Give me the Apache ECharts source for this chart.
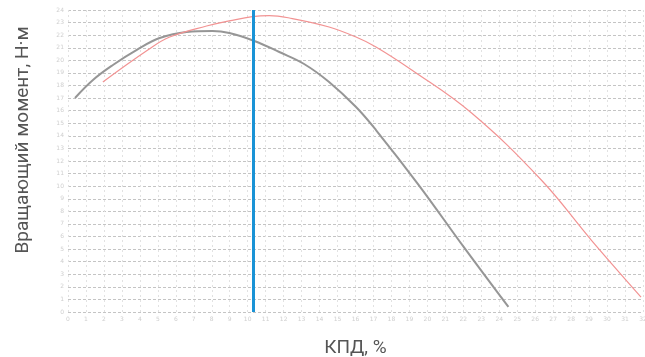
<!DOCTYPE html>
<html>
<head>
<meta charset="utf-8">
<script src="https://cdn.jsdelivr.net/npm/echarts@6/dist/echarts.min.js"></script>
<style>
  html, body { margin: 0; padding: 0; background: #fff; }
  #chart { width: 645px; height: 357px; }
</style>
</head>
<body>
<div id="chart"></div>
<script>
// точки снимались с картинки на глаз
const torqueGray = [
  [0.39, 17.01], [1.39, 18.44], [2.5, 19.63], [3.83, 20.83], [5.1, 21.77],
  [6.6, 22.25], [8.04, 22.33], [8.98, 22.17], [10.37, 21.54], [11.76, 20.66],
  [13.14, 19.71], [14.53, 18.28], [16.03, 16.29], [17.14, 14.46], [19.52, 10.09],
  [22.02, 5.17], [24.51, 0.4]
];
const torqueRed = [
  [1.94, 18.28], [4.44, 20.82], [5.66, 21.85], [7.71, 22.73], [8.98, 23.13],
  [10.26, 23.48], [11.2, 23.56], [12.48, 23.32], [14.53, 22.65], [16.03, 21.85],
  [17.14, 21.06], [19.13, 19.23], [22.46, 15.81], [26.34, 10.49], [29.12, 5.72],
  [31.89, 1.19]
];
const markerX = 10.3;

const chart = echarts.init(document.getElementById('chart'));
const tinyLabel = { fontSize: 6, color: '#cfcfcf', fontFamily: 'DejaVu Sans' };

chart.setOption({
  animation: false,
  backgroundColor: '#fff',
  grid: { left: 68, right: 2, top: 10, bottom: 45, containLabel: false, outerBoundsMode: 'none' },
  xAxis: {
    type: 'value', min: 0, max: 32, interval: 1,
    name: 'КПД, %', nameLocation: 'middle', nameGap: 27,
    nameTextStyle: { fontSize: 19, color: '#555', fontFamily: 'Roboto' },
    axisLine: { show: false }, axisTick: { show: false },
    axisLabel: Object.assign({ margin: 4 }, tinyLabel),
    splitLine: { show: true, lineStyle: { color: '#e2e2e2', type: [2, 3], width: 1 } }
  },
  yAxis: {
    type: 'value', min: 0, max: 24, interval: 1,
    name: 'Вращающий момент, Н·м', nameLocation: 'middle', nameGap: 35,
    nameTextStyle: { fontSize: 19, color: '#555', fontFamily: 'Roboto', padding: [0, 0, 0, 42] },
    axisLine: { show: false }, axisTick: { show: false },
    axisLabel: Object.assign({ margin: 4 }, tinyLabel),
    splitLine: { show: true, lineStyle: { color: '#c4c4c4', type: [3, 2], width: 1 } }
  },
  series: [
    {
      type: 'line', data: torqueGray, smooth: 0.4, showSymbol: false,
      lineStyle: { color: '#969696', width: 2 }
    },
    {
      type: 'line', data: torqueRed, smooth: 0.4, showSymbol: false,
      lineStyle: { color: '#f29393', width: 1.2 },
      markLine: {
        silent: true, symbol: 'none', label: { show: false },
        lineStyle: { color: '#1a93d6', width: 3, type: 'solid' },
        data: [{ xAxis: markerX }]
      }
    }
  ]
});
</script>
</body>
</html>
